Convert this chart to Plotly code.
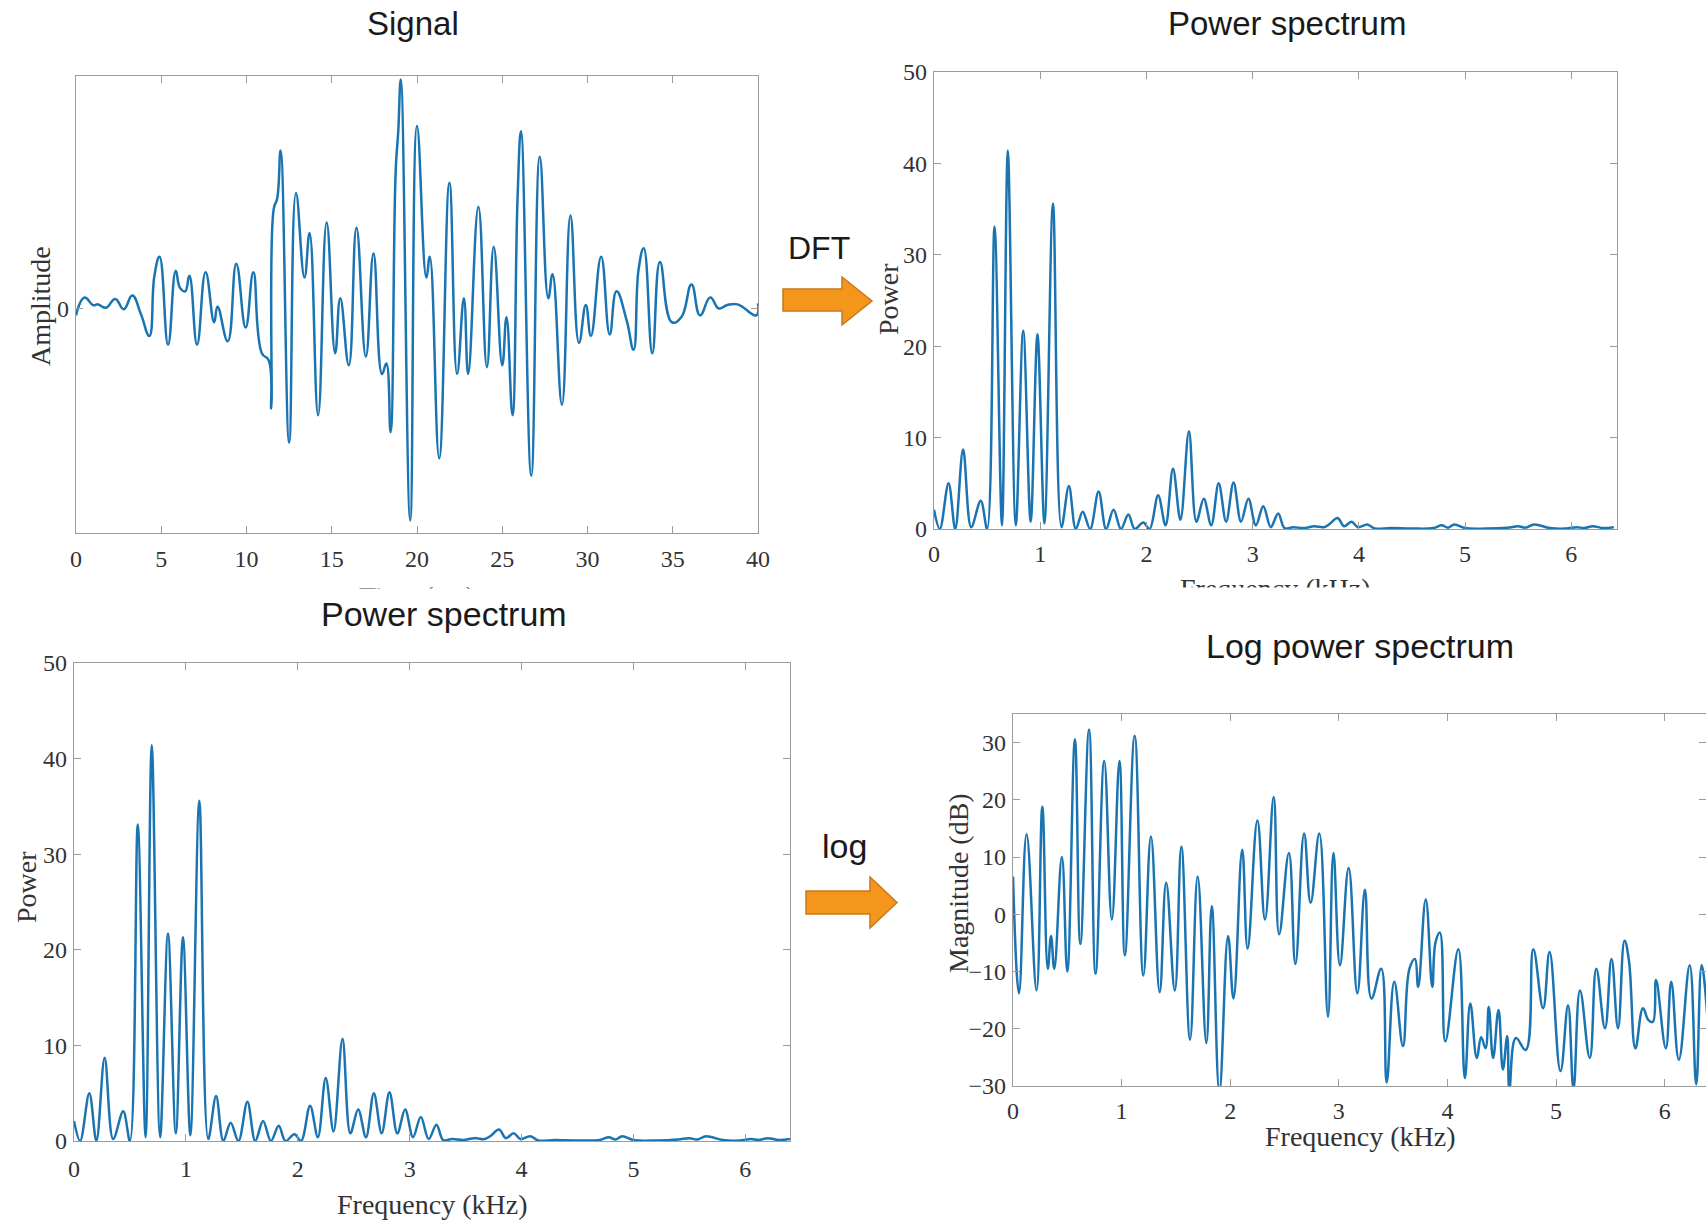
import plotly.graph_objects as go

W, H = 1706, 1222

# ---------------- data ----------------
sig_time = [0, 0.5, 1.0, 1.3, 1.75, 2.3, 2.8, 3.3, 3.8, 4.3, 4.6, 4.9, 5.4, 5.85, 6.1, 6.4, 6.65, 7.1, 7.6, 8.1,
            8.3, 8.9, 9.4, 9.95, 10.4, 10.9, 11.3, 11.45, 11.6, 11.8, 12.0, 12.5, 12.9, 13.4, 13.7, 14.2, 14.7,
            15.2, 15.5, 16.0, 16.45, 17.0, 17.45, 17.95, 18.2, 18.45, 18.75, 18.9, 19.05, 19.6, 20.0, 20.55,
            20.75, 21.3, 21.9, 22.35, 22.75, 23.0, 23.6, 24.1, 24.5, 25.0, 25.25, 25.6, 25.9, 26.1, 26.7, 27.2,
            27.7, 27.95, 28.5, 29.0, 29.5, 29.9, 30.2, 30.8, 31.3, 31.7, 32.3, 32.7, 33.0, 33.3, 33.8, 34.25,
            34.95, 35.5, 36.1, 36.6, 37.2, 37.7, 38.2, 38.8, 39.9, 40]
sig_amp = [-0.03, 0.048, 0.015, 0.018, 0.003, 0.042, -0.003, 0.057, -0.023, -0.12, 0.143, 0.226, -0.158, 0.165,
           0.09, 0.075, 0.143, -0.158, 0.158, -0.06, 0.008, -0.143, 0.195, -0.083, 0.158, -0.195, -0.226, -0.436,
           0.436, 0.48, 0.69, -0.586, 0.504, 0.135, 0.33, -0.466, 0.376, -0.195, 0.045, -0.248, 0.353, -0.21,
           0.24, -0.286, -0.24, -0.54, 0.6, 0.774, 1.0, -0.925, 0.797, 0.135, 0.226, -0.654, 0.549, -0.286,
           0.045, -0.286, 0.444, -0.256, 0.27, -0.248, -0.038, -0.466, 0.489, 0.774, -0.73, 0.662, 0.045, 0.15,
           -0.42, 0.406, -0.15, 0.015, -0.12, 0.226, -0.113, 0.075, -0.053, -0.18, 0.173, 0.263, -0.195, 0.203,
           -0.06, -0.038, 0.105, -0.03, 0.048, 0, 0.015, 0.018, -0.03, 0.023]

spec_freq = [0, 0.055, 0.137, 0.2, 0.274, 0.35, 0.44, 0.5, 0.57, 0.64, 0.695, 0.77, 0.84, 0.91, 0.974, 1.04,
             1.12, 1.2, 1.27, 1.335, 1.4, 1.47, 1.55, 1.62, 1.69, 1.76, 1.83, 1.89, 1.97, 2.03, 2.11, 2.18, 2.25,
             2.32, 2.4, 2.47, 2.54, 2.61, 2.68, 2.75, 2.82, 2.89, 2.96, 3.03, 3.1, 3.17, 3.24, 3.3, 3.38, 3.48,
             3.58, 3.67, 3.72, 3.8, 3.86, 3.93, 3.99, 4.08, 4.15, 4.3, 4.5, 4.7, 4.78, 4.84, 4.9, 5.0, 5.2, 5.4,
             5.5, 5.57, 5.65, 5.8, 5.95, 6.05, 6.12, 6.2, 6.3, 6.4]
spec_power = [2.1, 0, 5.0, 0, 8.7, 0.2, 3.1, 0, 33.1, 0.4, 41.4, 0.4, 21.7, 0.8, 21.3, 0.6, 35.6, 0.2, 4.7, 0,
              1.9, 0, 4.1, 0, 2.1, 0, 1.6, 0, 0.7, 0, 3.7, 0.4, 6.6, 1.0, 10.7, 0.8, 3.3, 0.4, 5.0, 0.8, 5.1, 0.8,
              3.3, 0.4, 2.5, 0.2, 1.7, 0.1, 0.2, 0.1, 0.3, 0.2, 0.5, 1.2, 0.3, 0.8, 0.2, 0.5, 0.05, 0.1, 0.05, 0.1,
              0.4, 0.15, 0.5, 0.1, 0.05, 0.15, 0.3, 0.15, 0.5, 0.1, 0.05, 0.2, 0.1, 0.3, 0.1, 0.2]

log_freq = [0, 0.055, 0.125, 0.217, 0.27, 0.32, 0.35, 0.38, 0.45, 0.5, 0.57, 0.62, 0.7, 0.76, 0.84, 0.91, 0.98,
            1.03, 1.12, 1.2, 1.27, 1.35, 1.41, 1.49, 1.55, 1.63, 1.7, 1.78, 1.83, 1.9, 1.98, 2.03, 2.11, 2.16,
            2.25, 2.32, 2.4, 2.45, 2.54, 2.6, 2.68, 2.74, 2.82, 2.9, 2.95, 3.01, 3.09, 3.17, 3.24, 3.3, 3.39,
            3.44, 3.51, 3.59, 3.65, 3.7, 3.73, 3.8, 3.86, 3.89, 3.93, 3.98, 4.1, 4.16, 4.21, 4.27, 4.31, 4.35,
            4.38, 4.42, 4.47, 4.51, 4.55, 4.57, 4.63, 4.72, 4.79, 4.88, 4.94, 5.04, 5.11, 5.16, 5.22, 5.31, 5.37,
            5.45, 5.51, 5.57, 5.63, 5.67, 5.73, 5.8, 5.85, 5.89, 5.92, 6.01, 6.06, 6.13, 6.23, 6.29, 6.34, 6.4]
log_db = [6.6, -13.8, 14, -13.3, 18.8, -9.5, -3.8, -9.5, 10, -10, 30.6, -5.2, 32.3, -10.4, 26.8, -0.9, 26.8,
          -7.2, 31.2, -10.7, 13.6, -13.6, 5.5, -13.3, 11.8, -21.9, 6.6, -22.5, 1.4, -31, -3.8, -14.7, 11.3, -6,
          16.4, -0.9, 20.5, -3.5, 10.7, -8.7, 14.1, 2, 14.1, -17.9, 10.7, -8.9, 8.1, -13.8, 4.3, -14.7, -9.5,
          -29.4, -11.8, -23, -9.5, -7.8, -12.7, 2.6, -12.7, -4.9, -3.2, -22.2, -6.1, -28.6, -15.6, -25.1, -21.5,
          -23.4, -16.2, -25.1, -16.7, -27.1, -21.3, -30.5, -21.6, -23.7, -6.1, -16.4, -6.6, -27.4, -15.9, -30.5,
          -13.3, -25.1, -9.5, -19.9, -7.8, -19.9, -4.6, -8, -23.4, -16.4, -18.5, -18.8, -11.5, -23.4, -11.8,
          -25.4, -8.9, -29.7, -8.9, -20]

time_ticks = [0, 5, 10, 15, 20, 25, 30, 35, 40]
freq_ticks = [0, 1, 2, 3, 4, 5, 6]
power_ticks = [0, 10, 20, 30, 40, 50]
db_ticks = [-30, -20, -10, 0, 10, 20, 30]

# ---------------- helpers ----------------
def px(x):
    return x / W


def py(y):
    return 1 - y / H


LINE = "#1a74b2"
AX = "#9c9c9c"
SERIF = "Liberation Serif"
SANS = "Liberation Sans"

fig = go.Figure()

fig.add_trace(go.Scatter(x=sig_time, y=sig_amp, mode="lines", line=dict(color=LINE, width=2.5, shape="spline", smoothing=1.3),
                         xaxis="x", yaxis="y", showlegend=False))
fig.add_trace(go.Scatter(x=spec_freq, y=spec_power, mode="lines", line=dict(color=LINE, width=2.5, shape="spline", smoothing=1.0),
                         xaxis="x2", yaxis="y2", showlegend=False))
fig.add_trace(go.Scatter(x=spec_freq, y=spec_power, mode="lines", line=dict(color=LINE, width=2.5, shape="spline", smoothing=1.0),
                         xaxis="x3", yaxis="y3", showlegend=False))
fig.add_trace(go.Scatter(x=log_freq, y=log_db, mode="lines", line=dict(color=LINE, width=2.5, shape="spline", smoothing=1.2),
                         xaxis="x4", yaxis="y4", showlegend=False))


def axis(domain, rng, ticks, anchor, standoff=2):
    return dict(domain=domain, range=rng, tickvals=ticks, anchor=anchor, showline=True, linecolor=AX,
                linewidth=1.3, mirror="allticks", ticks="inside", ticklen=7, tickwidth=1.2, tickcolor=AX,
                showgrid=False, zeroline=False, ticklabelstandoff=standoff,
                tickfont=dict(family=SERIF, size=24, color="#333333"), fixedrange=True)


panels = {
    1: (76, 758, 76, 533),
    2: (934, 1617, 72, 529),
    3: (74, 790, 663, 1141),
    4: (1013, 1706, 714, 1086),
}


def dom(p):
    x0, x1, y0, y1 = panels[p]
    return [px(x0), min(1.0, px(x1))], [py(y1), py(y0)]


dx1, dy1 = dom(1)
dx2, dy2 = dom(2)
dx3, dy3 = dom(3)
dx4, dy4 = dom(4)

fig.update_layout(
    width=W, height=H, margin=dict(l=0, r=0, t=0, b=0, autoexpand=False),
    paper_bgcolor="white", plot_bgcolor="white",
    xaxis=axis(dx1, [0, 40], time_ticks, "y", 4),
    yaxis=axis(dy1, [-0.98, 1.015], [0], "x", 1),
    xaxis2=axis(dx2, [0, 6.43], freq_ticks, "y2", 3),
    yaxis2=axis(dy2, [0, 50], power_ticks, "x2", 1),
    xaxis3=axis(dx3, [0, 6.4], freq_ticks, "y3", 6),
    yaxis3=axis(dy3, [0, 50], power_ticks, "x3", 1),
    xaxis4=axis(dx4, [0, 6.38], freq_ticks, "y4", 3),
    yaxis4=axis(dy4, [-30, 35], db_ticks, "x4", 1),
)

ann = []


def text(x, y, s, size, family, angle=0, anchor="middle", color="#1a1a1a"):
    ann.append(dict(x=px(x), y=py(y), xref="paper", yref="paper", text=s, showarrow=False,
                    font=dict(family=family, size=size, color=color), textangle=angle,
                    xanchor="center", yanchor=anchor))


# clipped x-axis titles of the top panels
text(417, 579, "Time (ms)", 28, SERIF, anchor="top", color="#333333")
text(1275, 571, "Frequency (kHz)", 28, SERIF, anchor="top", color="#333333")
# white strips clipping them
for cx, wd, top in ((417, 260, 588), (1275, 300, 587)):
    ann.append(dict(x=px(cx), y=py(top), xref="paper", yref="paper", text=" ", showarrow=False,
                    width=wd, height=30, bgcolor="white", borderpad=0, xanchor="center", yanchor="top"))

# panel titles
text(413, 24, "Signal", 33, SANS)
text(1287, 24, "Power spectrum", 33, SANS)
text(444, 614, "Power spectrum", 34, SANS)
text(1360, 646, "Log power spectrum", 34, SANS)

# axis titles
text(40, 306, "Amplitude", 28, SERIF, angle=-90, color="#333333")
text(889, 299, "Power", 28, SERIF, angle=-90, color="#333333")
text(26, 887, "Power", 28, SERIF, angle=-90, color="#333333")
text(958, 883, "Magnitude (dB)", 28, SERIF, angle=-90, color="#333333")
text(432, 1204, "Frequency (kHz)", 28, SERIF, color="#333333")
text(1360, 1136, "Frequency (kHz)", 28, SERIF, color="#333333")

# arrow labels
text(819, 248, "DFT", 32, SANS)
text(844, 846, "log", 34, SANS)

fig.update_layout(annotations=ann)


def arrow(x0, xh, xt, sy0, sy1, hy0, hy1):
    ty = (hy0 + hy1) / 2
    pts = [(x0, sy0), (xh, sy0), (xh, hy0), (xt, ty), (xh, hy1), (xh, sy1), (x0, sy1)]
    path = "M " + " L ".join(f"{px(a):.5f},{py(b):.5f}" for a, b in pts) + " Z"
    return dict(type="path", xref="paper", yref="paper", path=path, fillcolor="#F5961C",
                line=dict(color="#C9781B", width=1.5), layer="above")


fig.update_layout(shapes=[
    arrow(783, 842, 872, 289, 311, 277, 325),
    arrow(806, 870, 897, 891, 914, 877, 928),
])

fig.write_html("out.html")
